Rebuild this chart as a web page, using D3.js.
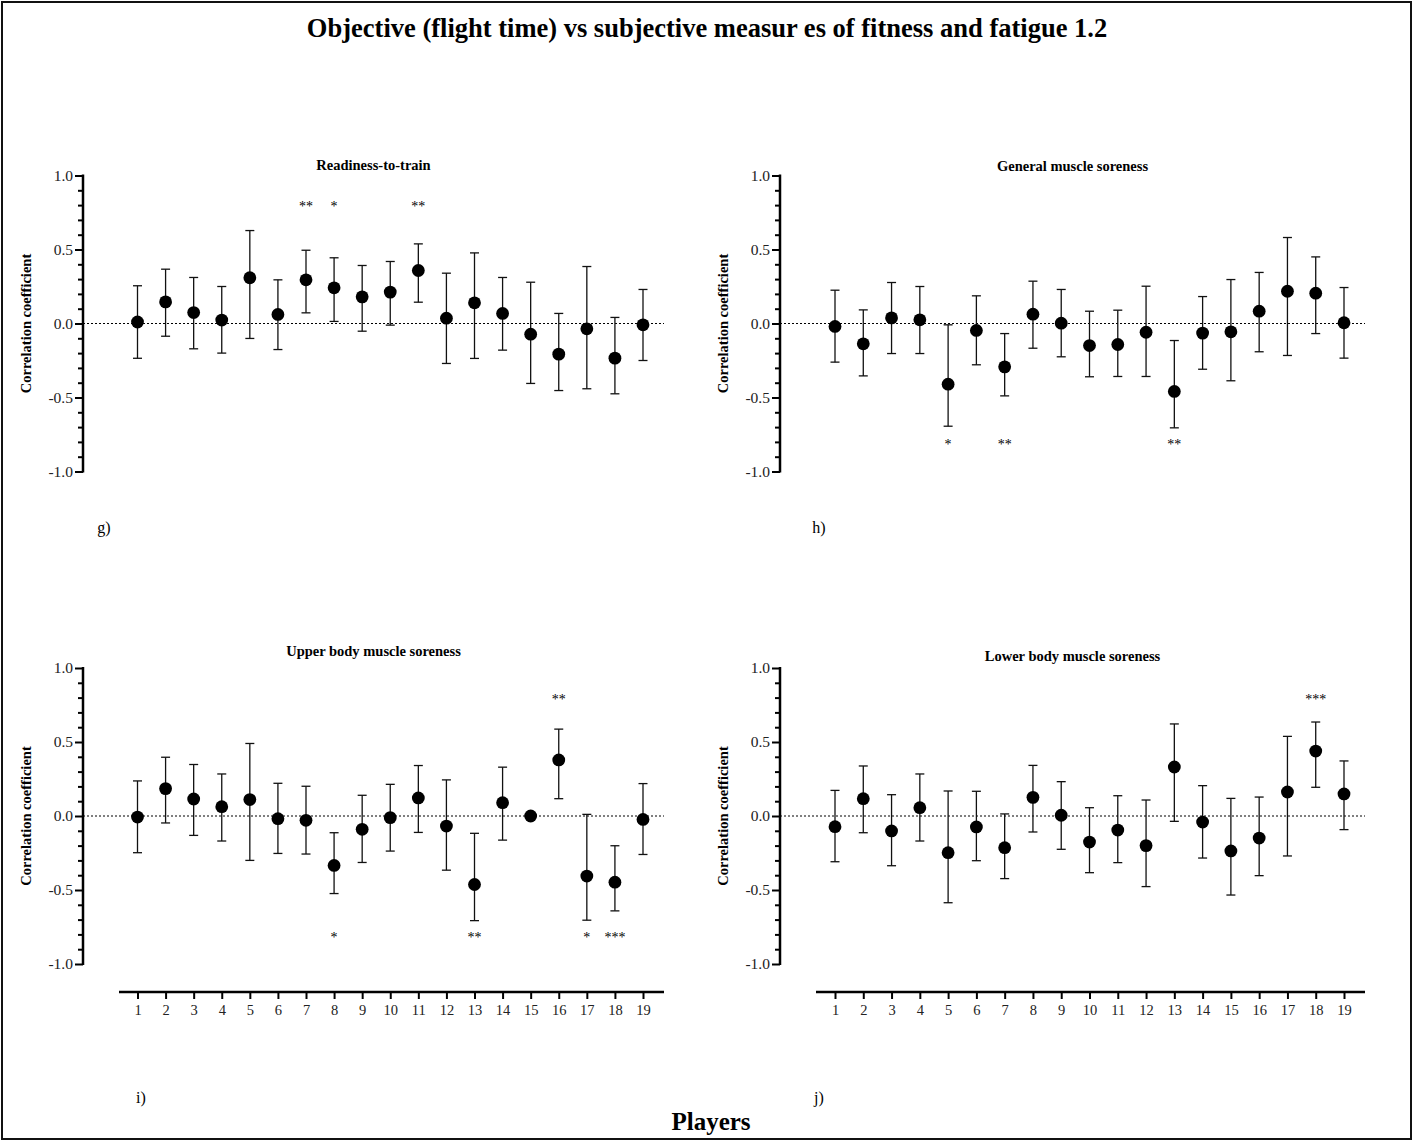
<!DOCTYPE html>
<html>
<head>
<meta charset="utf-8">
<script src="https://cdn.jsdelivr.net/npm/d3@7"></script>
<style>
  html, body { margin: 0; padding: 0; background: #fff; }
  svg { display: block; font-family: "Liberation Serif", "Times New Roman", serif; }
</style>
</head>
<body>
<svg id="chart" width="1414" height="1142"></svg>
<script>
// Players and per-panel correlation coefficients with 95% confidence limits
const players = d3.range(1, 20);
const yTicks = [-1.0, -0.5, 0.0, 0.5, 1.0];

const readinessR  = [0.010, 0.146, 0.074, 0.023, 0.309, 0.061, 0.295, 0.241, 0.180, 0.212, 0.358, 0.036, 0.140, 0.068, -0.072, -0.207, -0.036, -0.234, -0.009];
const readinessLo = [-0.235, -0.086, -0.171, -0.200, -0.101, -0.176, 0.072, 0.014, -0.052, -0.011, 0.144, -0.270, -0.236, -0.180, -0.405, -0.453, -0.441, -0.475, -0.250];
const readinessHi = [0.255, 0.367, 0.311, 0.250, 0.628, 0.295, 0.495, 0.444, 0.392, 0.419, 0.538, 0.340, 0.477, 0.311, 0.279, 0.068, 0.385, 0.041, 0.230];
const readinessSig = [[7, "**", "above"], [8, "*", "above"], [11, "**", "above"]];

const generalR  = [-0.020, -0.137, 0.038, 0.025, -0.410, -0.047, -0.293, 0.063, 0.002, -0.149, -0.142, -0.059, -0.459, -0.065, -0.056, 0.083, 0.218, 0.205, 0.005];
const generalLo = [-0.261, -0.354, -0.203, -0.203, -0.694, -0.279, -0.489, -0.167, -0.225, -0.360, -0.358, -0.358, -0.705, -0.309, -0.387, -0.191, -0.216, -0.068, -0.234];
const generalHi = [0.225, 0.092, 0.277, 0.250, -0.009, 0.187, -0.068, 0.286, 0.230, 0.083, 0.090, 0.252, -0.115, 0.182, 0.297, 0.345, 0.581, 0.450, 0.243];
const generalSig = [[5, "*", "below"], [7, "**", "below"], [13, "**", "below"]];

const upperR  = [-0.007, 0.185, 0.115, 0.063, 0.111, -0.018, -0.029, -0.334, -0.090, -0.011, 0.122, -0.068, -0.463, 0.090, 0.000, 0.379, -0.406, -0.447, -0.023];
const upperLo = [-0.248, -0.047, -0.131, -0.169, -0.300, -0.253, -0.257, -0.524, -0.314, -0.237, -0.111, -0.366, -0.707, -0.163, null, 0.117, -0.704, -0.641, -0.260];
const upperHi = [0.237, 0.397, 0.348, 0.284, 0.490, 0.221, 0.201, -0.113, 0.140, 0.214, 0.341, 0.244, -0.117, 0.330, null, 0.587, 0.011, -0.201, 0.219];
const upperSig = [[16, "**", "above"], [8, "*", "below"], [13, "**", "below"], [17, "*", "below"], [18, "***", "below"]];

const lowerR  = [-0.072, 0.117, -0.101, 0.056, -0.248, -0.074, -0.214, 0.126, 0.005, -0.176, -0.095, -0.200, 0.331, -0.041, -0.236, -0.149, 0.162, 0.439, 0.149];
const lowerLo = [-0.309, -0.113, -0.336, -0.169, -0.586, -0.302, -0.423, -0.108, -0.225, -0.383, -0.315, -0.477, -0.036, -0.284, -0.534, -0.403, -0.270, 0.194, -0.092];
const lowerHi = [0.173, 0.338, 0.144, 0.284, 0.169, 0.167, 0.014, 0.342, 0.232, 0.056, 0.137, 0.108, 0.622, 0.205, 0.119, 0.128, 0.538, 0.635, 0.372];
const lowerSig = [[18, "***", "above"]];

const panelTitles = ["Readiness-to-train", "General muscle soreness", "Upper body muscle soreness", "Lower body muscle soreness"];
const panelTags = ["g)", "h)", "i)", "j)"];

// Layout of the 2x2 grid
const panels = [
  { title: panelTitles[0], tag: panelTags[0], r: readinessR, lo: readinessLo, hi: readinessHi, sig: readinessSig,
    ax: 83, x1: 137.5, x19: 643, top: 175.5, xAxis: false, titleY: 170, tagX: 104, tagY: 533 },
  { title: panelTitles[1], tag: panelTags[1], r: generalR, lo: generalLo, hi: generalHi, sig: generalSig,
    ax: 780, x1: 835, x19: 1344, top: 175.5, xAxis: false, titleY: 171, tagX: 819, tagY: 533 },
  { title: panelTitles[2], tag: panelTags[2], r: upperR, lo: upperLo, hi: upperHi, sig: upperSig,
    ax: 83, x1: 137.5, x19: 643, top: 668, xAxis: true, titleY: 656, tagX: 141, tagY: 1103 },
  { title: panelTitles[3], tag: panelTags[3], r: lowerR, lo: lowerLo, hi: lowerHi, sig: lowerSig,
    ax: 780, x1: 835, x19: 1344, top: 668, xAxis: true, titleY: 661, tagX: 819, tagY: 1103 }
];

// tick labels with a plain hyphen for negatives
const fmtY = v => d3.format(".1f")(v).replace("\u2212", "-");

const svg = d3.select("#chart");

// outer frame
svg.append("rect")
  .attr("x", 2).attr("y", 2).attr("width", 1409).attr("height", 1137)
  .attr("fill", "none").attr("stroke", "#111").attr("stroke-width", 2);

svg.append("text")
  .attr("x", 707).attr("y", 37)
  .attr("text-anchor", "middle")
  .attr("font-size", 26.5).attr("font-weight", "bold")
  .text("Objective (flight time) vs subjective measur es of fitness and fatigue 1.2");

svg.append("text")
  .attr("x", 711).attr("y", 1130)
  .attr("text-anchor", "middle")
  .attr("font-size", 25).attr("font-weight", "bold")
  .text("Players");

const plotH = 296;

panels.forEach(p => {
  const g = svg.append("g");
  const y = d3.scaleLinear().domain([-1, 1]).range([p.top + plotH, p.top]);
  const x = d3.scaleLinear().domain([1, 19]).range([p.x1, p.x19]);
  const right = p.x19 + 21;

  // minor ticks every 0.1
  const minor = d3.range(-10, 11).map(i => i / 10).filter(v => Math.abs(v * 2 - Math.round(v * 2)) > 1e-6);
  g.append("g")
    .attr("transform", `translate(${p.ax},0)`)
    .call(d3.axisLeft(y).tickValues(minor).tickSize(5).tickFormat(""))
    .call(s => s.select(".domain").remove())
    .call(s => s.selectAll("line").attr("stroke", "#000").attr("stroke-width", 2));

  // major ticks with labels
  g.append("g")
    .attr("transform", `translate(${p.ax},0)`)
    .call(d3.axisLeft(y).tickValues(yTicks).tickSize(8).tickPadding(2).tickFormat(fmtY))
    .call(s => s.select(".domain").attr("stroke", "#000").attr("stroke-width", 2.5).attr("d", `M-0,${y(1) - 1}V${y(-1) + 1}`))
    .call(s => s.selectAll("line").attr("stroke", "#000").attr("stroke-width", 2))
    .call(s => s.selectAll("text").attr("font-size", 15.5).attr("font-family", "Liberation Serif").attr("fill", "#222"));

  // y axis title
  g.append("text")
    .attr("transform", `translate(${p.ax - 52},${y(0)}) rotate(-90)`)
    .attr("text-anchor", "middle")
    .attr("font-size", 14.5).attr("font-weight", "bold")
    .text("Correlation coefficient");

  // panel title
  g.append("text")
    .attr("x", (p.ax + right) / 2).attr("y", p.titleY)
    .attr("text-anchor", "middle")
    .attr("font-size", 14.5).attr("font-weight", "bold")
    .text(p.title);

  // zero reference line
  g.append("line")
    .attr("x1", p.ax).attr("x2", right)
    .attr("y1", y(0)).attr("y2", y(0))
    .attr("stroke", "#000").attr("stroke-width", 1)
    .attr("stroke-dasharray", "2,2");

  // x axis for bottom row
  if (p.xAxis) {
    const xa = g.append("g")
      .attr("transform", `translate(0,992)`)
      .call(d3.axisBottom(x).tickValues(players).tickSize(7).tickPadding(6).tickFormat(d3.format("d")));
    xa.select(".domain").attr("d", `M${p.ax + 36},0H${right}`).attr("stroke", "#000").attr("stroke-width", 2.5);
    xa.selectAll("line").attr("stroke", "#000").attr("stroke-width", 2);
    xa.selectAll("text").attr("font-size", 14.5).attr("font-family", "Liberation Serif").attr("fill", "#222");
  }

  const data = players.map((pl, i) => ({ pl, r: p.r[i], lo: p.lo[i], hi: p.hi[i] }));
  const withCI = data.filter(d => d.lo !== null && d.hi !== null);

  // confidence interval whiskers
  g.selectAll(".ci").data(withCI).enter().append("line")
    .attr("x1", d => x(d.pl)).attr("x2", d => x(d.pl))
    .attr("y1", d => y(d.hi)).attr("y2", d => y(d.lo))
    .attr("stroke", "#111").attr("stroke-width", 1.3);
  ["hi", "lo"].forEach(k => {
    g.selectAll(".cap-" + k).data(withCI).enter().append("line")
      .attr("x1", d => x(d.pl) - 4.5).attr("x2", d => x(d.pl) + 4.5)
      .attr("y1", d => y(d[k])).attr("y2", d => y(d[k]))
      .attr("stroke", "#111").attr("stroke-width", 1.3);
  });

  // point estimates
  g.selectAll(".pt").data(data).enter().append("circle")
    .attr("cx", d => x(d.pl)).attr("cy", d => y(d.r))
    .attr("r", 6.4)
    .attr("fill", "#000");

  // significance markers
  g.selectAll(".sig").data(p.sig).enter().append("text")
    .attr("x", d => x(d[0]))
    .attr("y", d => y(d[2] === "above" ? 0.8 : -0.81) + 6)
    .attr("text-anchor", "middle")
    .attr("font-size", 14).attr("fill", "#000")
    .text(d => d[1]);

  // panel tag
  g.append("text")
    .attr("x", p.tagX).attr("y", p.tagY)
    .attr("text-anchor", "middle")
    .attr("font-size", 16)
    .text(p.tag);
});
</script>
</body>
</html>
